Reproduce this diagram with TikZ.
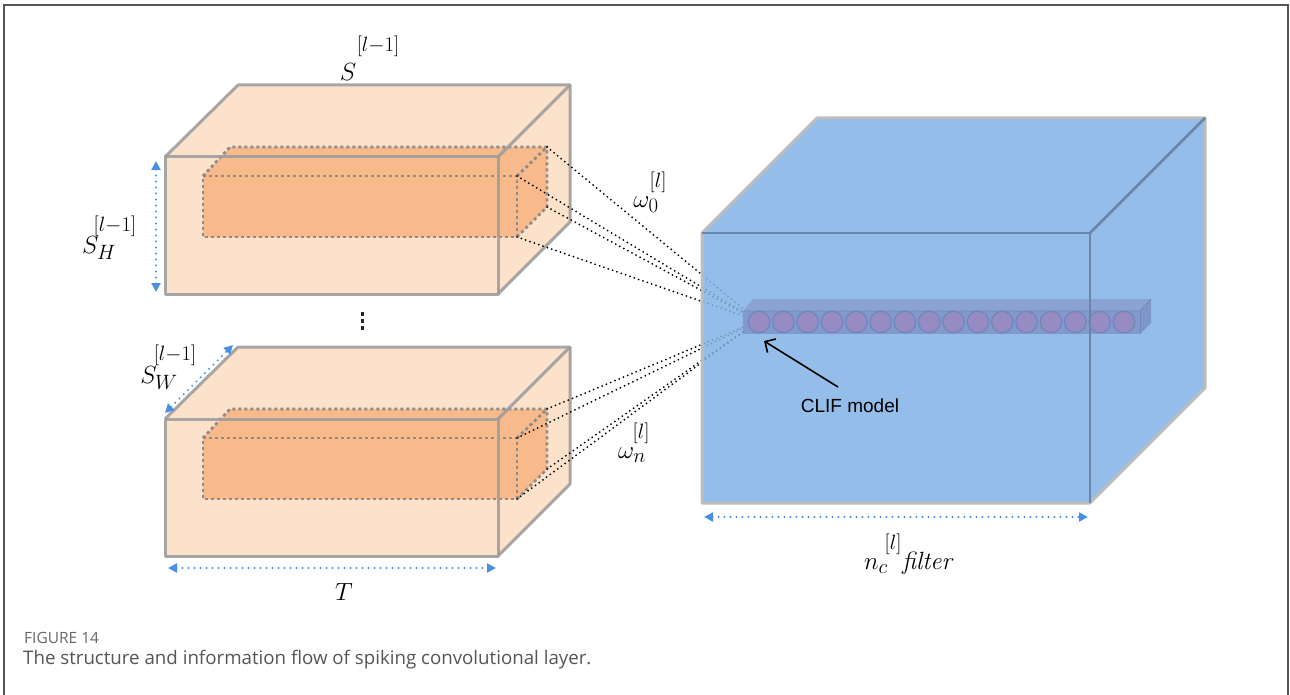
\documentclass[tikz,border=0pt]{standalone}
\usepackage{fontspec}
\newfontfamily\capfont{Open Sans}
\newfontfamily\arialfont{Liberation Sans}
\usetikzlibrary{arrows.meta}
\definecolor{peach}{HTML}{FCE1CB}
\definecolor{orng}{HTML}{F8B98B}
\definecolor{boxedge}{HTML}{9E9E9E}
\definecolor{inedge}{HTML}{8C8C8C}
\definecolor{bluefill}{HTML}{83B2E5}
\definecolor{blueedge}{HTML}{BDBDBD}
\definecolor{bluedark}{HTML}{6B86A8}
\definecolor{barfront}{HTML}{8199CD}
\definecolor{bartop}{HTML}{8AA3D3}
\definecolor{barside}{HTML}{7F96C9}
\definecolor{baredge}{HTML}{7088BB}
\definecolor{neuron}{HTML}{968CC3}
\definecolor{neuronedge}{HTML}{6F86B8}
\definecolor{measure}{HTML}{4A90E2}
\definecolor{frame}{HTML}{555555}
\definecolor{captext}{HTML}{555555}
\tikzset{
  outeredge/.style={draw=boxedge, line width=3pt, line join=round, draw opacity=0.9},
  inneredge/.style={draw=inedge, line width=2.8pt, dash pattern=on 3pt off 3pt},
  conn/.style={draw=black, line width=2pt, dash pattern=on 0pt off 4.6pt, line cap=round},
  measurearrow/.style={draw=measure, line width=2.2pt, dash pattern=on 0pt off 6pt, line cap=round,
     {Triangle[width=9pt,length=9pt]}-{Triangle[width=9pt,length=9pt]}},
  lab/.style={inner sep=0pt, font=\fontsize{24.88}{29}\selectfont},
  suplab/.style={inner sep=0pt, font=\fontsize{20.74}{25}\selectfont},
}
\begin{document}
\begin{tikzpicture}[x=1pt,y=-1pt]
\useasboundingbox (0,0) rectangle (1290,695);
% frame
\draw[frame, line width=2pt] (4,695) -- (4,5) -- (1288,5) -- (1288,695);

% orange boxes
\foreach \b/\dy in {1/0,2/262}{
 \begin{scope}[shift={(0,\dy)}]
  \coordinate (o\b a) at (165,157);
  \coordinate (o\b b) at (498,157);
  \coordinate (o\b c) at (498,294);
  \coordinate (o\b d) at (165,294);
  \coordinate (o\b e) at (238,85);
  \coordinate (o\b f) at (570,85);
  \coordinate (o\b g) at (570,222);
  \coordinate (i\b a) at (203,176);
  \coordinate (i\b b) at (517,176);
  \coordinate (i\b c) at (517,237);
  \coordinate (i\b d) at (203,237);
  \coordinate (i\b e) at (230,147);
  \coordinate (i\b f) at (547,147);
  \coordinate (i\b g) at (547,207);
 \end{scope}
 \fill[peach] (o\b d) -- (o\b a) -- (o\b e) -- (o\b f) -- (o\b g) -- (o\b c) -- cycle;
 \fill[orng] (i\b d) -- (i\b a) -- (i\b e) -- (i\b f) -- (i\b g) -- (i\b c) -- cycle;
 \draw[inneredge] (i\b a) -- (i\b b) -- (i\b c) -- (i\b d) -- cycle;
 \draw[inneredge] (i\b a) -- (i\b e) -- (i\b f) -- (i\b g) -- (i\b c);
 \draw[inneredge] (i\b b) -- (i\b f);
 \draw[outeredge] (o\b a) -- (o\b b) -- (o\b c) -- (o\b d) -- cycle;
 \draw[outeredge] (o\b a) -- (o\b e) -- (o\b f) -- (o\b g) -- (o\b c);
 \draw[outeredge] (o\b b) -- (o\b f);
}

% vertical ellipsis
\fill[black!85] (360.5,312) rectangle (364,315.5);
\fill[black!85] (360.5,319) rectangle (364,322.5);
\fill[black!85] (360.5,326) rectangle (364,329.5);

% convergence point
\coordinate (conv) at (758,321);
\foreach \b in {1,2}{
  \foreach \c in {b,c,f,g}{
    \draw[conn] (i\b\c) -- (conv);
  }
}

% blue box
\coordinate (ba) at (702,233);
\coordinate (bb) at (1090,233);
\coordinate (bc) at (1090,503);
\coordinate (bd) at (702,503);
\coordinate (be) at (817,118);
\coordinate (bf) at (1205,118);
\coordinate (bg) at (1205,388);
\fill[bluefill, fill opacity=0.85] (bd) -- (ba) -- (be) -- (bf) -- (bg) -- (bc) -- cycle;
\draw[blueedge, line width=3pt, line join=round] (bc) -- (bd) -- (ba) -- (be) -- (bf) -- (bg) -- (bc);

% neuron bar
\coordinate (ra) at (743,311);
\coordinate (rb) at (1140,311);
\coordinate (rc) at (1140,334);
\coordinate (rd) at (743,334);
\coordinate (re) at (753,299);
\coordinate (rf) at (1151,299);
\coordinate (rg) at (1151,323);
\fill[bartop] (ra) -- (re) -- (rf) -- (rb) -- cycle;
\fill[barside] (rb) -- (rf) -- (rg) -- (rc) -- cycle;
\fill[barfront] (ra) rectangle (rc);
\draw[baredge, line width=0.8pt] (ra) -- (rb) -- (rf);
\draw[baredge, line width=0.8pt] (rb) -- (rc);
\foreach \i in {0,...,15}{
  \node[circle, minimum size=21.5pt, inner sep=0pt, fill=neuron, draw=neuronedge, line width=1.2pt]
    (n\i) at (759+24.33*\i,322) {};
}
% dark front edges of blue box
\draw[bluedark, line width=2.5pt, line join=round] (ba) -- (bb) -- (bc);
\draw[bluedark, line width=2.5pt] (bb) -- (bf);

% CLIF label and arrow
\node[inner sep=1pt, font=\arialfont\fontsize{19}{22}\selectfont] (clif) at (850,406) {CLIF model};
\coordinate (cliftail) at (838,387);
\coordinate (cliftip) at (764,341);
\draw[black, line width=1.6pt, -{Straight Barb[length=8pt,width=16pt]}] (cliftail) -- (cliftip);

% measurement arrows
\coordinate (h1) at (156,161);
\coordinate (h2) at (156,292);
\draw[measurearrow] (h1) -- (h2);
\coordinate (t1) at (168,568);
\coordinate (t2) at (496,568);
\draw[measurearrow] (t1) -- (t2);
\coordinate (w1) at (165,413);
\coordinate (w2) at (233,345);
\draw[measurearrow] (w1) -- (w2);
\coordinate (c1) at (704,517);
\coordinate (c2) at (1088,517);
\draw[measurearrow] (c1) -- (c2);

% labels
\node[lab] (lS) at (348,72) {$S$};
\node[suplab] (lSs) at (378,46) {$[l{-}1]$};
\node[lab] (lH) at (99,248) {$S_H$};
\node[suplab] (lHs) at (115,226) {$[l{-}1]$};
\node[lab] (lW) at (159,378) {$S_W$};
\node[suplab] (lWs) at (175,355) {$[l{-}1]$};
\node[lab] (lT) at (344,592) {$T$};
\node[lab] (lo0) at (646,205) {$\omega_0$};
\node[suplab] (lo0s) at (658,182) {$[l]$};
\node[lab] (lon) at (632,455) {$\omega_n$};
\node[suplab] (lons) at (641,433) {$[l]$};
\node[lab] (lnc) at (876,566) {$n_c$};
\node[lab] (lfil) at (928,563) {\textit{filter}};
\node[suplab] (lncs) at (893,544) {$[l]$};

% caption
\node[anchor=west, inner sep=0pt, text=black!60, font=\capfont\fontsize{15.5}{18}\selectfont] (fig) at (24,638) {FIGURE 14};
\node[anchor=west, inner sep=0pt, text=captext, font=\capfont\fontsize{18.7}{22}\selectfont] (cap) at (23,660) {The structure and information flow of spiking convolutional layer.};
\end{tikzpicture}
\end{document}
